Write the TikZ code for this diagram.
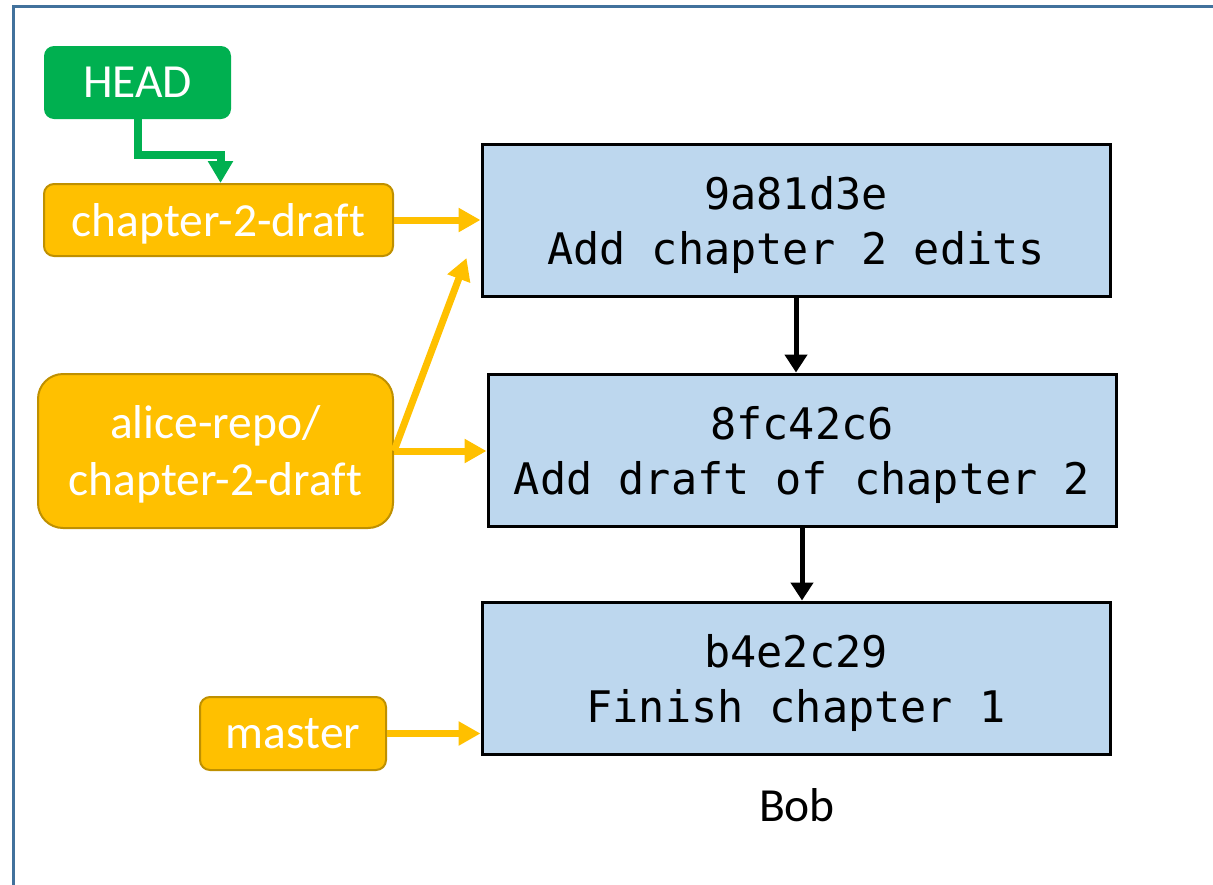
\documentclass[tikz,border=0pt]{standalone}
\usepackage{fontspec}
\setmainfont{Carlito}[Ligatures=NoCommon]
\newfontfamily\codefont{DejaVu Sans Mono}
\usetikzlibrary{arrows.meta}

\definecolor{headgreen}{HTML}{00B050}
\definecolor{branchgold}{HTML}{FFC000}
\definecolor{branchedge}{HTML}{BF9000}
\definecolor{commitblue}{HTML}{BDD7EE}
\definecolor{frameblue}{HTML}{41719C}

\begin{document}
\begin{tikzpicture}[
    x=1pt, y=-1pt,
    frame/.style={draw=frameblue, line width=3pt},
    label/.style={rectangle, rounded corners=10pt, inner sep=0pt, align=center, text depth=0pt,
      text=white, font=\fontsize{47.5}{57}\selectfont},
    branch/.style={label, fill=branchgold, draw=branchedge, line width=2pt},
    commit/.style={rectangle, draw=black, line width=3pt, fill=commitblue, inner sep=0pt,
      minimum width=628pt, minimum height=152pt, align=center, text depth=0pt,
      font=\codefont\fontsize{43.5}{55}\selectfont},
    refarrow/.style={draw=branchgold, line width=7pt, -{Triangle[length=22pt,width=23pt]}},
    headarrow/.style={draw=headgreen, line width=8pt, -{Triangle[length=22pt,width=24pt]}},
    parent/.style={draw=black, line width=5pt, -{Triangle[length=18pt,width=22pt]}}
  ]
    \useasboundingbox (0,0) rectangle (1213,884);
    \draw[frame] (13,6) rectangle (1240,910);

    % commits
    \node[commit] (c1) at (796,220.5) {9a81d3e\\Add chapter 2 edits};
    \node[commit] (c2) at (802,450) {8fc42c6\\Add draft of chapter 2};
    \node[commit] (c3) at (796,678) {b4e2c29\\Finish chapter 1};
    \node[font=\fontsize{47.5}{57}\selectfont] (owner) at (797,805) {Bob};

    % refs
    \node[label, fill=headgreen, minimum width=187pt, minimum height=73pt] (head) at (137.5,82.5) {HEAD};
    \node[branch, minimum width=349pt, minimum height=72pt] (draft) at (218.5,220) {chapter-2-draft};
    \node[branch, rounded corners=25pt, minimum width=355pt, minimum height=154pt] (remote) at (215.5,451) {alice-repo/\\chapter-2-draft};
    \node[branch, minimum width=186pt, minimum height=73pt] (master) at (293,733.5) {master};

    % arrows
    \draw[headarrow] (head.south) -- ++(0,36) -| ([xshift=2pt]draft.north);
    \draw[refarrow] (draft.east) -- (draft.east -| c1.west);
    \draw[refarrow] (remote.east) -- (remote.east -| c2.west);
    \draw[refarrow] (remote.east) -- ([shift={(-14,-40)}]c1.south west);
    \draw[refarrow] (master.east) -- (master.east -| c3.west);
    \draw[parent] (c1.south) -- (c1.south |- c2.north);
    \draw[parent] (c2.south) -- (c2.south |- c3.north);
\end{tikzpicture}
\end{document}
